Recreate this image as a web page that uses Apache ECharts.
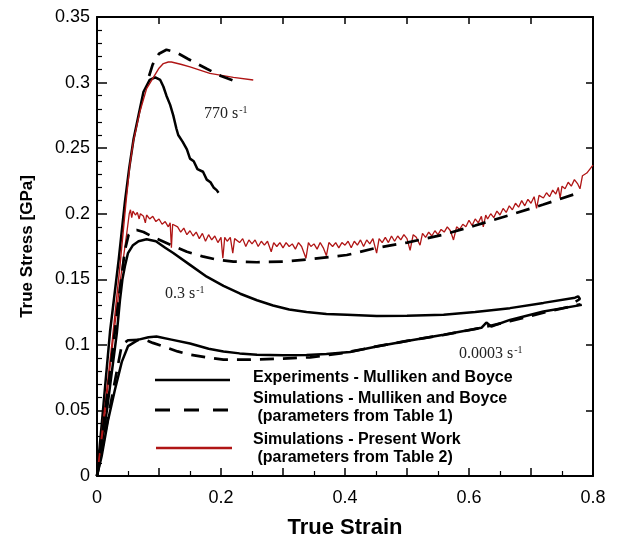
<!DOCTYPE html>
<html><head><meta charset="utf-8">
<script src="https://cdn.jsdelivr.net/npm/echarts@6/dist/echarts.min.js"></script>
<style>html,body{margin:0;padding:0;background:#fff}#c{width:629px;height:539px}</style>
</head><body><div id="c"></div>
<script>
// ---- data (strain, stress GPa) ----
const xTickLabels = ['0', '0.2', '0.4', '0.6', '0.8'];
const yTickLabels = ['0', '0.05', '0.1', '0.15', '0.2', '0.25', '0.3', '0.35'];

// 770 /s
const exp770 = [[0,0],[0.01,0.052],[0.021,0.11],[0.035,0.165],[0.045,0.209],[0.052,0.235],[0.059,0.257],[0.067,0.275],[0.075,0.293],[0.085,0.302],[0.094,0.304],[0.102,0.302],[0.107,0.297],[0.112,0.29],[0.118,0.283],[0.123,0.275],[0.128,0.265],[0.131,0.26],[0.138,0.255],[0.145,0.249],[0.15,0.242],[0.156,0.24],[0.162,0.234],[0.171,0.232],[0.177,0.226],[0.183,0.224],[0.188,0.22],[0.193,0.218],[0.196,0.216]];
const sim770MB = [[0.084,0.305],[0.09,0.314],[0.1,0.322],[0.112,0.325],[0.128,0.323],[0.147,0.318],[0.177,0.3105],[0.2,0.305],[0.228,0.3]];
const sim770PW = [[0,0],[0.012,0.05],[0.025,0.105],[0.037,0.16],[0.047,0.21],[0.053,0.237],[0.0586,0.255],[0.069,0.2776],[0.08,0.2954],[0.091,0.304],[0.1,0.311],[0.107,0.3145],[0.115,0.3157],[0.12,0.3157],[0.135,0.314],[0.15,0.312],[0.182,0.307],[0.22,0.304],[0.252,0.302]];

// 0.3 /s
const exp03 = [[0,0],[0.016,0.05],[0.032,0.109],[0.037,0.134],[0.041,0.15],[0.045,0.16],[0.05,0.17],[0.058,0.176],[0.067,0.179],[0.08,0.1805],[0.095,0.179],[0.11,0.174],[0.123,0.17],[0.15,0.161],[0.177,0.152],[0.204,0.145],[0.231,0.139],[0.258,0.134],[0.284,0.13],[0.31,0.127],[0.338,0.125],[0.37,0.1235],[0.403,0.123],[0.451,0.122],[0.5,0.1222],[0.559,0.123],[0.61,0.125],[0.666,0.128],[0.72,0.132],[0.771,0.136],[0.776,0.137],[0.779,0.135],[0.772,0.133]];
const sim03MB = [[0,0],[0.02,0.075],[0.035,0.135],[0.045,0.172],[0.051,0.184],[0.056,0.1865],[0.064,0.1876],[0.075,0.186],[0.096,0.181],[0.12,0.176],[0.145,0.171],[0.17,0.1675],[0.193,0.165],[0.22,0.1635],[0.258,0.163],[0.3,0.1635],[0.338,0.165],[0.403,0.1685],[0.451,0.174],[0.5,0.178],[0.559,0.184],[0.61,0.191],[0.666,0.199],[0.72,0.207],[0.774,0.2155]];
const sim03PW = [[0,0],[0.01,0.036],[0.027,0.108],[0.037,0.147],[0.048,0.185],[0.052,0.2],[0.054,0.203],[0.056,0.197],[0.058,0.202],[0.062,0.199],[0.065,0.201],[0.068,0.196],[0.07,0.2],[0.075,0.198],[0.078,0.193],[0.08,0.199],[0.085,0.196],[0.09,0.198],[0.095,0.194],[0.1,0.196],[0.105,0.192],[0.11,0.194],[0.115,0.19],[0.118,0.193],[0.12,0.174],[0.122,0.192],[0.13,0.19],[0.135,0.186],[0.14,0.189],[0.145,0.184],[0.15,0.187],[0.155,0.183],[0.16,0.186],[0.165,0.181],[0.17,0.185],[0.175,0.179],[0.18,0.184],[0.185,0.18],[0.19,0.183],[0.195,0.178],[0.2,0.182],[0.203,0.166],[0.206,0.182],[0.21,0.179],[0.215,0.182],[0.219,0.17],[0.222,0.181],[0.23,0.178],[0.235,0.181],[0.24,0.175],[0.245,0.18],[0.25,0.177],[0.255,0.18],[0.26,0.175],[0.265,0.179],[0.27,0.176],[0.275,0.179],[0.281,0.171],[0.285,0.178],[0.29,0.175],[0.295,0.178],[0.3,0.174],[0.305,0.178],[0.31,0.175],[0.315,0.177],[0.32,0.173],[0.325,0.178],[0.33,0.175],[0.337,0.166],[0.341,0.178],[0.345,0.175],[0.35,0.177],[0.355,0.173],[0.36,0.178],[0.365,0.174],[0.37,0.168],[0.374,0.178],[0.38,0.175],[0.385,0.178],[0.39,0.174],[0.395,0.178],[0.4,0.176],[0.405,0.179],[0.41,0.174],[0.415,0.179],[0.42,0.176],[0.425,0.18],[0.43,0.175],[0.435,0.18],[0.44,0.177],[0.445,0.181],[0.451,0.17],[0.455,0.181],[0.46,0.178],[0.465,0.182],[0.47,0.178],[0.475,0.183],[0.48,0.179],[0.485,0.183],[0.49,0.18],[0.495,0.184],[0.5,0.181],[0.505,0.172],[0.51,0.184],[0.515,0.182],[0.521,0.176],[0.525,0.185],[0.53,0.182],[0.535,0.186],[0.54,0.183],[0.545,0.187],[0.55,0.184],[0.555,0.188],[0.56,0.186],[0.565,0.19],[0.57,0.187],[0.575,0.18],[0.58,0.19],[0.585,0.188],[0.59,0.192],[0.595,0.19],[0.6,0.195],[0.605,0.191],[0.61,0.196],[0.615,0.193],[0.62,0.198],[0.623,0.19],[0.627,0.199],[0.63,0.196],[0.635,0.2],[0.64,0.197],[0.645,0.202],[0.65,0.199],[0.655,0.204],[0.66,0.201],[0.665,0.206],[0.67,0.203],[0.675,0.208],[0.68,0.205],[0.685,0.21],[0.69,0.206],[0.695,0.211],[0.7,0.208],[0.705,0.213],[0.709,0.204],[0.713,0.214],[0.72,0.212],[0.725,0.216],[0.73,0.213],[0.735,0.218],[0.74,0.215],[0.744,0.22],[0.747,0.212],[0.75,0.221],[0.755,0.219],[0.76,0.224],[0.765,0.221],[0.77,0.226],[0.775,0.223],[0.779,0.219],[0.783,0.229],[0.79,0.231],[0.795,0.234],[0.8,0.237]];

// 0.0003 /s
const exp0003 = [[0,0],[0.0075,0.015],[0.018,0.043],[0.029,0.066],[0.04,0.087],[0.05,0.099],[0.067,0.104],[0.083,0.1058],[0.096,0.1064],[0.12,0.104],[0.15,0.101],[0.18,0.097],[0.204,0.095],[0.23,0.0935],[0.258,0.0925],[0.3,0.092],[0.338,0.0922],[0.37,0.093],[0.408,0.0945],[0.451,0.0988],[0.5,0.103],[0.559,0.1077],[0.62,0.113],[0.628,0.117],[0.636,0.114],[0.666,0.119],[0.72,0.1254],[0.782,0.1305]];
const sim0003MB = [[0,0],[0.04,0.1],[0.05,0.1035],[0.077,0.104],[0.09,0.1015],[0.107,0.0988],[0.13,0.095],[0.15,0.0925],[0.18,0.0902],[0.204,0.0887],[0.247,0.0887],[0.3,0.0895],[0.344,0.0905],[0.4,0.094],[0.451,0.0988],[0.5,0.103],[0.559,0.1075],[0.62,0.113],[0.666,0.118],[0.72,0.1245],[0.78,0.131]];

const legendLabels = ['Experiments - Mulliken and Boyce', 'Simulations - Mulliken and Boyce', ' (parameters from Table 1)', 'Simulations - Present Work', ' (parameters from Table 2)'];
const rateLabels = ['770 s', '0.3 s', '0.0003 s'];

// ---- styles ----
const RED = '#b01515';
const solid = {color: '#000', width: 2.5, type: 'solid'};
const dashed = {color: '#000', width: 2.7, type: [14, 9]};
const red = {color: RED, width: 1.4, type: 'solid'};
function line(name, data, ls, z) {
  return {name, type: 'line', data, showSymbol: false, symbol: 'none', lineStyle: ls, z: z, animation: false, silent: true};
}

const chart = echarts.init(document.getElementById('c'), null, {renderer: 'canvas'});
const font = "'Liberation Sans', Arial, sans-serif";
const serif = "'Liberation Serif', 'Times New Roman', serif";

const option = {
  backgroundColor: '#fff',
  animation: false,
  grid: {left: 97, right: 36, top: 17, bottom: 63, containLabel: false, outerBoundsMode: 'none'},
  xAxis: [{
    type: 'value', min: 0, max: 0.8, interval: 0.1, position: 'bottom',
    name: 'True Strain', nameLocation: 'middle', nameGap: 41,
    nameTextStyle: {fontFamily: font, fontWeight: 'bold', fontSize: 22, color: '#000'},
    axisLine: {show: true, onZero: false, lineStyle: {color: '#000', width: 2}},
    axisTick: {show: true, inside: true, length: 8, lineStyle: {color: '#000', width: 1.5}},
    minorTick: {show: true, splitNumber: 2, length: 5, lineStyle: {color: '#000', width: 1.2}},
    splitLine: {show: false},
    axisLabel: {fontFamily: font, fontSize: 18, color: '#000', margin: 13,
      formatter: v => { const k = Math.round(v / 0.2); return Math.abs(v / 0.2 - k) < 1e-6 ? xTickLabels[k] : ''; }}
  }, {
    type: 'value', min: 0, max: 0.8, interval: 0.1, position: 'top',
    axisLine: {show: true, onZero: false, lineStyle: {color: '#000', width: 2}},
    axisTick: {show: true, inside: true, length: 7, lineStyle: {color: '#000', width: 1.5}},
    axisLabel: {show: false}, splitLine: {show: false}
  }],
  yAxis: [{
    type: 'value', min: 0, max: 0.35, interval: 0.05, position: 'left',
    name: 'True Stress [GPa]', nameLocation: 'middle', nameGap: 61, nameRotate: 90,
    nameTextStyle: {fontFamily: font, fontWeight: 'bold', fontSize: 17, color: '#000'},
    axisLine: {show: true, onZero: false, lineStyle: {color: '#000', width: 2}},
    axisTick: {show: true, inside: true, length: 10, lineStyle: {color: '#000', width: 1.5}},
    minorTick: {show: true, splitNumber: 5, length: 5, lineStyle: {color: '#000', width: 1.2}},
    splitLine: {show: false},
    axisLabel: {fontFamily: font, fontSize: 18, color: '#000', margin: 7,
      formatter: v => yTickLabels[Math.round(v / 0.05)]}
  }, {
    type: 'value', min: 0, max: 0.35, interval: 0.05, position: 'right',
    axisLine: {show: true, onZero: false, lineStyle: {color: '#000', width: 2}},
    axisTick: {show: true, inside: true, length: 7, lineStyle: {color: '#000', width: 1.5}},
    axisLabel: {show: false}, splitLine: {show: false}
  }],
  series: [
    line('exp770', exp770, solid, 2),
    line('exp03', exp03, solid, 2),
    line('exp0003', exp0003, solid, 2),
    line('sim03PW', sim03PW, {color: RED, width: 1.3, type: 'solid'}, 3),
    line('sim770PW', sim770PW, red, 3),
    line('sim770MB', sim770MB, dashed, 4),
    line('sim03MB', sim03MB, dashed, 4),
    line('sim0003MB', sim0003MB, dashed, 4)
  ],
  graphic: []
};

function rateText(label, x, y) {
  return {type: 'text', left: x, top: y, z: 20, silent: true,
    style: {text: '{n|' + label + '}{s|-1}', fill: '#222',
      rich: {n: {fontFamily: serif, fontSize: 16, lineHeight: 18, fill: '#222'},
             s: {fontFamily: serif, fontSize: 10, lineHeight: 18, verticalAlign: 'top', fill: '#222', padding: [0, 0, 0, 1]}}}};
}
const legText = (t, x, yc) => ({type: 'text', left: x, top: yc - 9, z: 20, silent: true,
  style: {text: t, fill: '#000', font: 'bold 16px ' + font}});

option.graphic = [
  rateText(rateLabels[0], 204, 105),
  rateText(rateLabels[1], 165, 285),
  rateText(rateLabels[2], 459, 345),
  {type: 'line', z: 20, shape: {x1: 155, y1: 380, x2: 230, y2: 380}, style: {stroke: '#000', lineWidth: 2.6}},
  {type: 'line', z: 20, shape: {x1: 155, y1: 410, x2: 230, y2: 410}, style: {stroke: '#000', lineWidth: 2.8, lineDash: [15, 14]}},
  {type: 'line', z: 20, shape: {x1: 156, y1: 448, x2: 232, y2: 448}, style: {stroke: RED, lineWidth: 2.4}},
  legText(legendLabels[0], 253, 379),
  legText(legendLabels[1], 253, 400),
  legText(legendLabels[2], 253, 418),
  legText(legendLabels[3], 253, 441),
  legText(legendLabels[4], 253, 459)
];

chart.setOption(option);
</script>
</body></html>
